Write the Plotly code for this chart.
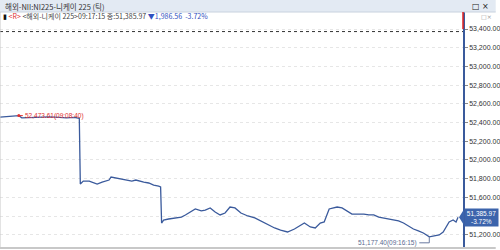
import plotly.graph_objects as go

# ---- data (tick sequence index, price) ----
seq = [0, 5, 10, 15, 19, 22, 27, 33, 40, 50, 60, 67, 75, 80,
       81, 84, 90, 95, 98, 103, 108, 110, 112, 117, 125, 130, 133, 137, 140, 145, 150, 155, 160, 162,
       163, 165, 170, 177, 183, 187, 192, 197, 203, 207, 212, 217, 222, 227, 232, 237, 243, 250, 257,
       263, 270, 277, 283, 290, 297, 303, 307, 313, 318, 323, 327, 332, 335, 340, 345, 350, 355, 360,
       367, 372, 377, 382, 387, 392, 397, 402, 407, 412, 417, 422, 427, 433, 438, 443, 447, 450, 453,
       457, 460, 462]
price = [52458, 52462, 52466, 52470, 52473.61, 52450, 52452, 52455, 52458, 52460, 52455, 52450, 52455, 52445,
         51742, 51774, 51774, 51753, 51742, 51763, 51774, 51785, 51817, 51806, 51796, 51785, 51774, 51785,
         51774, 51763, 51753, 51731, 51720, 51710,
         51325, 51357, 51368, 51379, 51389, 51411, 51443, 51475, 51454, 51464, 51486, 51443, 51411, 51432,
         51496, 51486, 51432, 51400, 51379,
         51347, 51315, 51272, 51250, 51229, 51261, 51304, 51325, 51283, 51272, 51325, 51336, 51475, 51486,
         51496, 51486, 51454, 51421, 51421,
         51421, 51411, 51411, 51389, 51379, 51368, 51357, 51347, 51325, 51293, 51261, 51240, 51218, 51177.40,
         51186, 51197, 51229, 51283, 51336, 51357, 51336, 51385.97]
max_label = "52,473.61(09:08:40)"
min_label = "51,177.40(09:16:15)"
title_text = "해외-NII:NI225-니케이 225 (틱)"
last_time = "09:17:15"
change = 1986.56
change_pct = -3.72
y_ticks = [51200, 51400, 51600, 51800, 52000, 52200, 52400, 52600, 52800, 53000, 53200, 53400]
hidden_ticks = [51400]  # covered by the current-price box in the reference

last_price = price[-1]
prev_close = last_price + change
i_max = price.index(max(price))
i_min = price.index(min(price))
tick_text = ["" if v in hidden_ticks else f"{v:,.2f}" for v in y_ticks]

W, H = 500, 250
ML, MR, MT, MB = 0, 33, 12, 2
PW, PH = W - ML - MR, H - MT - MB

LINE = "#3a5a9c"
fig = go.Figure()
fig.add_trace(go.Scatter(x=seq, y=price, mode="lines",
                         line=dict(color=LINE, width=1.3), hoverinfo="skip"))
fig.add_trace(go.Scatter(x=[seq[i_max]], y=[price[i_max]], mode="markers",
                         marker=dict(color="#e03030", size=3), hoverinfo="skip"))

shapes = []
# header bar
shapes.append(dict(type="rect", xref="paper", yref="paper", x0=0, x1=W / PW,
                   y0=1, y1=1 + MT / PH, fillcolor="#e3eaf3", line=dict(width=0), layer="above"))
shapes.append(dict(type="line", xref="paper", yref="paper", x0=0, x1=W / PW,
                   y0=1, y1=1, line=dict(color="#c8d2de", width=1)))
# previous close dotted line
shapes.append(dict(type="line", xref="paper", yref="y", x0=0, x1=1, y0=prev_close, y1=prev_close,
                   line=dict(color="#333333", width=1, dash="dot")))
# red current marker on top of axis
shapes.append(dict(type="line", xref="paper", yref="paper", x0=1, x1=1, y0=1,
                   y1=1 - 17 / PH, line=dict(color="#e02020", width=1.5)))
# borders
shapes.append(dict(type="line", xref="paper", yref="paper", x0=0, x1=0, y0=0, y1=1,
                   line=dict(color="#c8c8c8", width=1)))
shapes.append(dict(type="line", xref="paper", yref="paper", x0=0, x1=W / PW, y0=0, y1=0,
                   line=dict(color="#c8c8c8", width=2)))
# min connector
shapes.append(dict(type="path", xref="x", yref="y", xsizemode="pixel", ysizemode="pixel",
                   xanchor=seq[i_min], yanchor=price[i_min], path="M0,0 V-6 H-10",
                   line=dict(color="#6a7aa0", width=1)))
# max marker dash
shapes.append(dict(type="path", xref="x", yref="y", xsizemode="pixel", ysizemode="pixel",
                   xanchor=seq[i_max], yanchor=price[i_max], path="M1,0 H4",
                   line=dict(color="#e03030", width=1)))
# price box arrow
shapes.append(dict(type="path", xref="paper", yref="y", xsizemode="pixel", ysizemode="pixel",
                   xanchor=1, yanchor=last_price, path="M-4,0 L1,8 L1,-8 Z",
                   fillcolor="#3c64ac", line=dict(width=0), layer="above"))

HF = "Noto Sans CJK KR"
ann = []
ann.append(dict(xref="paper", yref="paper", x=0, y=1, xshift=3, yshift=6, xanchor="left",
                yanchor="middle", showarrow=False, text=title_text,
                font=dict(family=HF, size=7.5, color="#333333")))
ann.append(dict(xref="paper", yref="paper", x=W / PW, y=1, xshift=-5, yshift=6, xanchor="right",
                yanchor="middle", showarrow=False, text="□ ×",
                font=dict(family="DejaVu Sans", size=8, color="#222222")))
ann.append(dict(xref="paper", yref="paper", x=W / PW, y=1, xshift=-2, yshift=-4, xanchor="right",
                yanchor="middle", showarrow=False, text="□×",
                font=dict(family="DejaVu Sans", size=6, color="#999999")))
row2 = ("<span style='color:#111'>▮</span> <span style='color:#e03030'>&lt;R&gt;</span> "
        f"<span style='color:#444'>&lt;해외-니케이 225&gt;{last_time} 종:{last_price:,.2f}</span> "
        f"<span style='color:#3050c0'>▼{change:,.2f}  {change_pct:.2f}%</span>")
ann.append(dict(xref="paper", yref="paper", x=0, y=1, xshift=1, yshift=-4, xanchor="left",
                yanchor="middle", showarrow=False, text=row2,
                font=dict(family=HF, size=7, color="#444")))
ann.append(dict(xref="x", yref="y", x=seq[i_max], y=price[i_max], xshift=4, xanchor="left",
                yanchor="middle", showarrow=False, text=max_label,
                font=dict(family="Liberation Sans", size=6.5, color="#e03030")))
ann.append(dict(xref="x", yref="y", x=seq[i_min], y=price[i_min], xshift=-10, yshift=-6,
                xanchor="right", yanchor="middle", showarrow=False, text=min_label,
                font=dict(family="Liberation Sans", size=6.5, color="#5a6a90")))
ann.append(dict(xref="paper", yref="y", x=1, y=last_price, xshift=1, xanchor="left",
                yanchor="middle", showarrow=False,
                text=f"{last_price:,.2f}<br>{change_pct:.2f}%", bgcolor="#3c64ac",
                borderpad=1, width=31, align="center",
                font=dict(family="Liberation Sans", size=6.5, color="white")))

fig.update_layout(
    width=W, height=H, margin=dict(l=ML, r=MR, t=MT, b=MB),
    paper_bgcolor="white", plot_bgcolor="white", showlegend=False,
    shapes=shapes, annotations=ann,
    xaxis=dict(range=[0, PW], visible=False, fixedrange=True),
    yaxis=dict(side="right", range=[51057.8, 53581.8], tickvals=y_ticks, ticktext=tick_text,
               ticks="outside", ticklen=3, tickcolor="#888",
               showline=True, linecolor="#3a5a9c", linewidth=1.5,
               showgrid=True, gridcolor="#e6e6e6", griddash="dot", gridwidth=1,
               zeroline=False,
               tickfont=dict(family="Liberation Sans", size=7, color="#333")),
)
fig.write_html("out.html")
